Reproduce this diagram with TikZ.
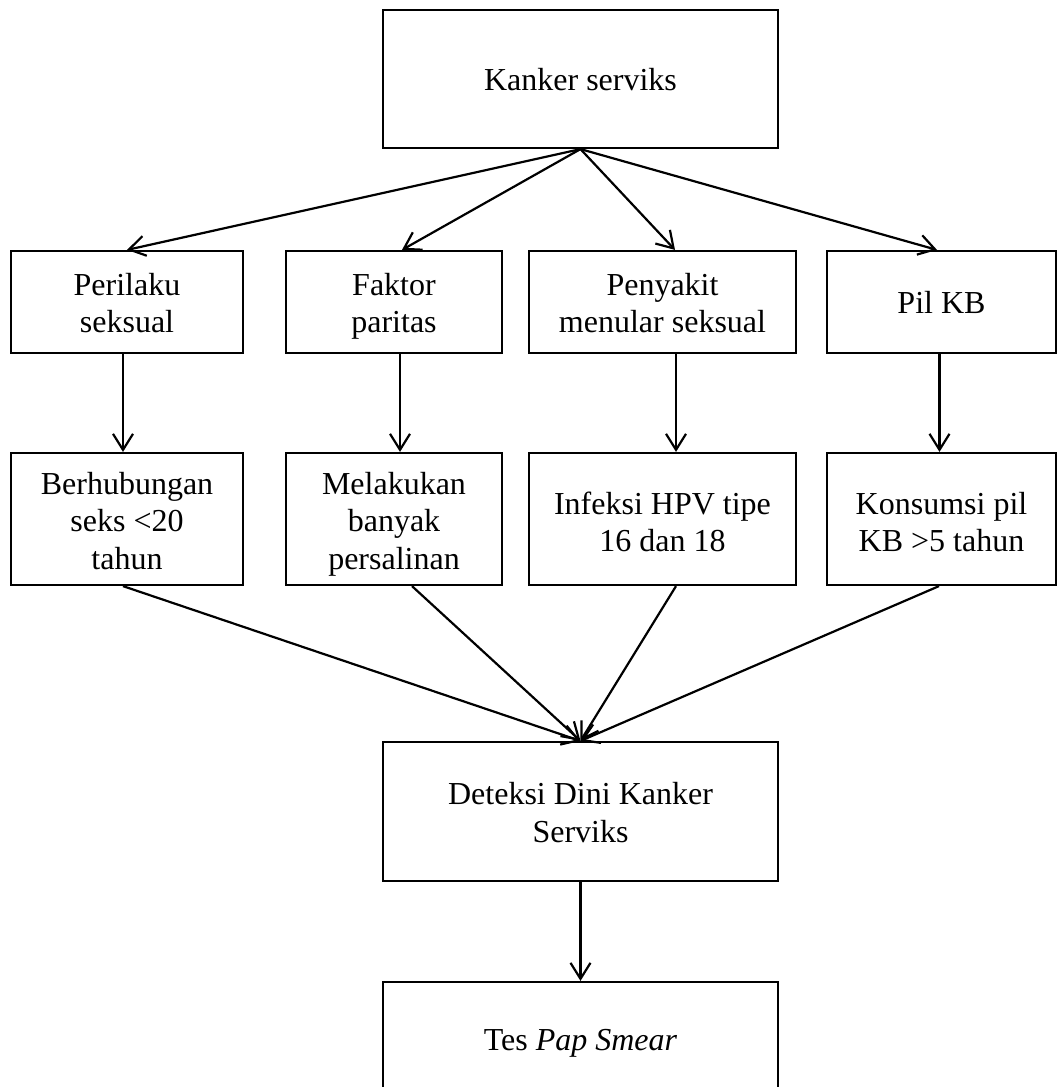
\documentclass[tikz,border=0pt]{standalone}
\usepackage{fontspec}
\setmainfont{Liberation Serif}
\usetikzlibrary{arrows.meta}
\newcommand{\bxt}[2][17.5pt]{\begin{tabular}{@{}c@{}}\rule{0pt}{#1}#2\strut\end{tabular}}
\begin{document}
\begin{tikzpicture}[x=0.5pt,y=-0.5pt,
  box/.style={draw, line width=1.1pt, inner sep=0pt,
    font=\fontsize{16pt}{18.85pt}\selectfont},
  arr/.style={line width=1.1pt, -{Straight Barb[length=8pt,width=10pt,line width=1.1pt]}}]
\useasboundingbox (0,0) rectangle (1058,1087);
\clip (0,0) rectangle (1058,1087);
% top
\node[box, minimum width=197.5pt, minimum height=69pt] (top) at (580.5,79) {\bxt{Kanker serviks}};
% row 2
\node[box, minimum width=116pt, minimum height=51pt] (b1) at (127,302) {\bxt{Perilaku\\seksual}};
\node[box, minimum width=108pt, minimum height=51pt] (b2) at (394,302) {\bxt{Faktor\\paritas}};
\node[box, minimum width=133.5pt, minimum height=51pt] (b3) at (662.5,302) {\bxt{Penyakit\\menular seksual}};
\node[box, minimum width=114.5pt, minimum height=51pt] (b4) at (941.5,302) {\bxt{Pil KB}};
% row 3
\node[box, minimum width=116pt, minimum height=66pt] (c1) at (127,519) {\bxt[18.5pt]{Berhubungan\\seks <20\\tahun}};
\node[box, minimum width=108pt, minimum height=66pt] (c2) at (394,519) {\bxt[18.5pt]{Melakukan\\banyak\\persalinan}};
\node[box, minimum width=133.5pt, minimum height=66pt] (c3) at (662.5,519) {\bxt[19.5pt]{Infeksi HPV tipe\\16 dan 18}};
\node[box, minimum width=114.5pt, minimum height=66pt] (c4) at (941.5,519) {\bxt[19.5pt]{Konsumsi pil\\KB >5 tahun}};
% middle
\node[box, minimum width=197.5pt, minimum height=69.5pt] (mid) at (580.5,811.5) {\bxt{Deteksi Dini Kanker\\Serviks}};
% bottom
\node[box, minimum width=197.5pt, minimum height=61pt] (bot) at (580.5,1043) {\bxt[13.2pt]{Tes \textit{Pap Smear}}};
% arrows top -> row 2
\draw[arr] (top.south) -- (b1.north);
\draw[arr] (top.south) -- ([xshift=4pt]b2.north);
\draw[arr] (top.south) -- ([xshift=6.25pt]b3.north);
\draw[arr] (top.south) -- ([xshift=-2.25pt]b4.north);
% row 2 -> row 3
\draw[arr] ([xshift=-2pt]b1.south) -- ([xshift=-2pt]c1.north);
\draw[arr] ([xshift=3pt]b2.south) -- ([xshift=3pt]c2.north);
\draw[arr] ([xshift=6.75pt]b3.south) -- ([xshift=6.75pt]c3.north);
\draw[arr] ([xshift=-1pt]b4.south) -- ([xshift=-1pt]c4.north);
% row 3 -> middle
\draw[arr] ([xshift=-2pt]c1.south) -- (mid.north);
\draw[arr] ([xshift=9pt]c2.south) -- (mid.north);
\draw[arr] ([xshift=6.75pt]c3.south) -- (mid.north);
\draw[arr] ([xshift=-1.25pt]c4.south) -- (mid.north);
% middle -> bottom
\draw[arr] (mid.south) -- (bot.north);
\end{tikzpicture}
\end{document}
